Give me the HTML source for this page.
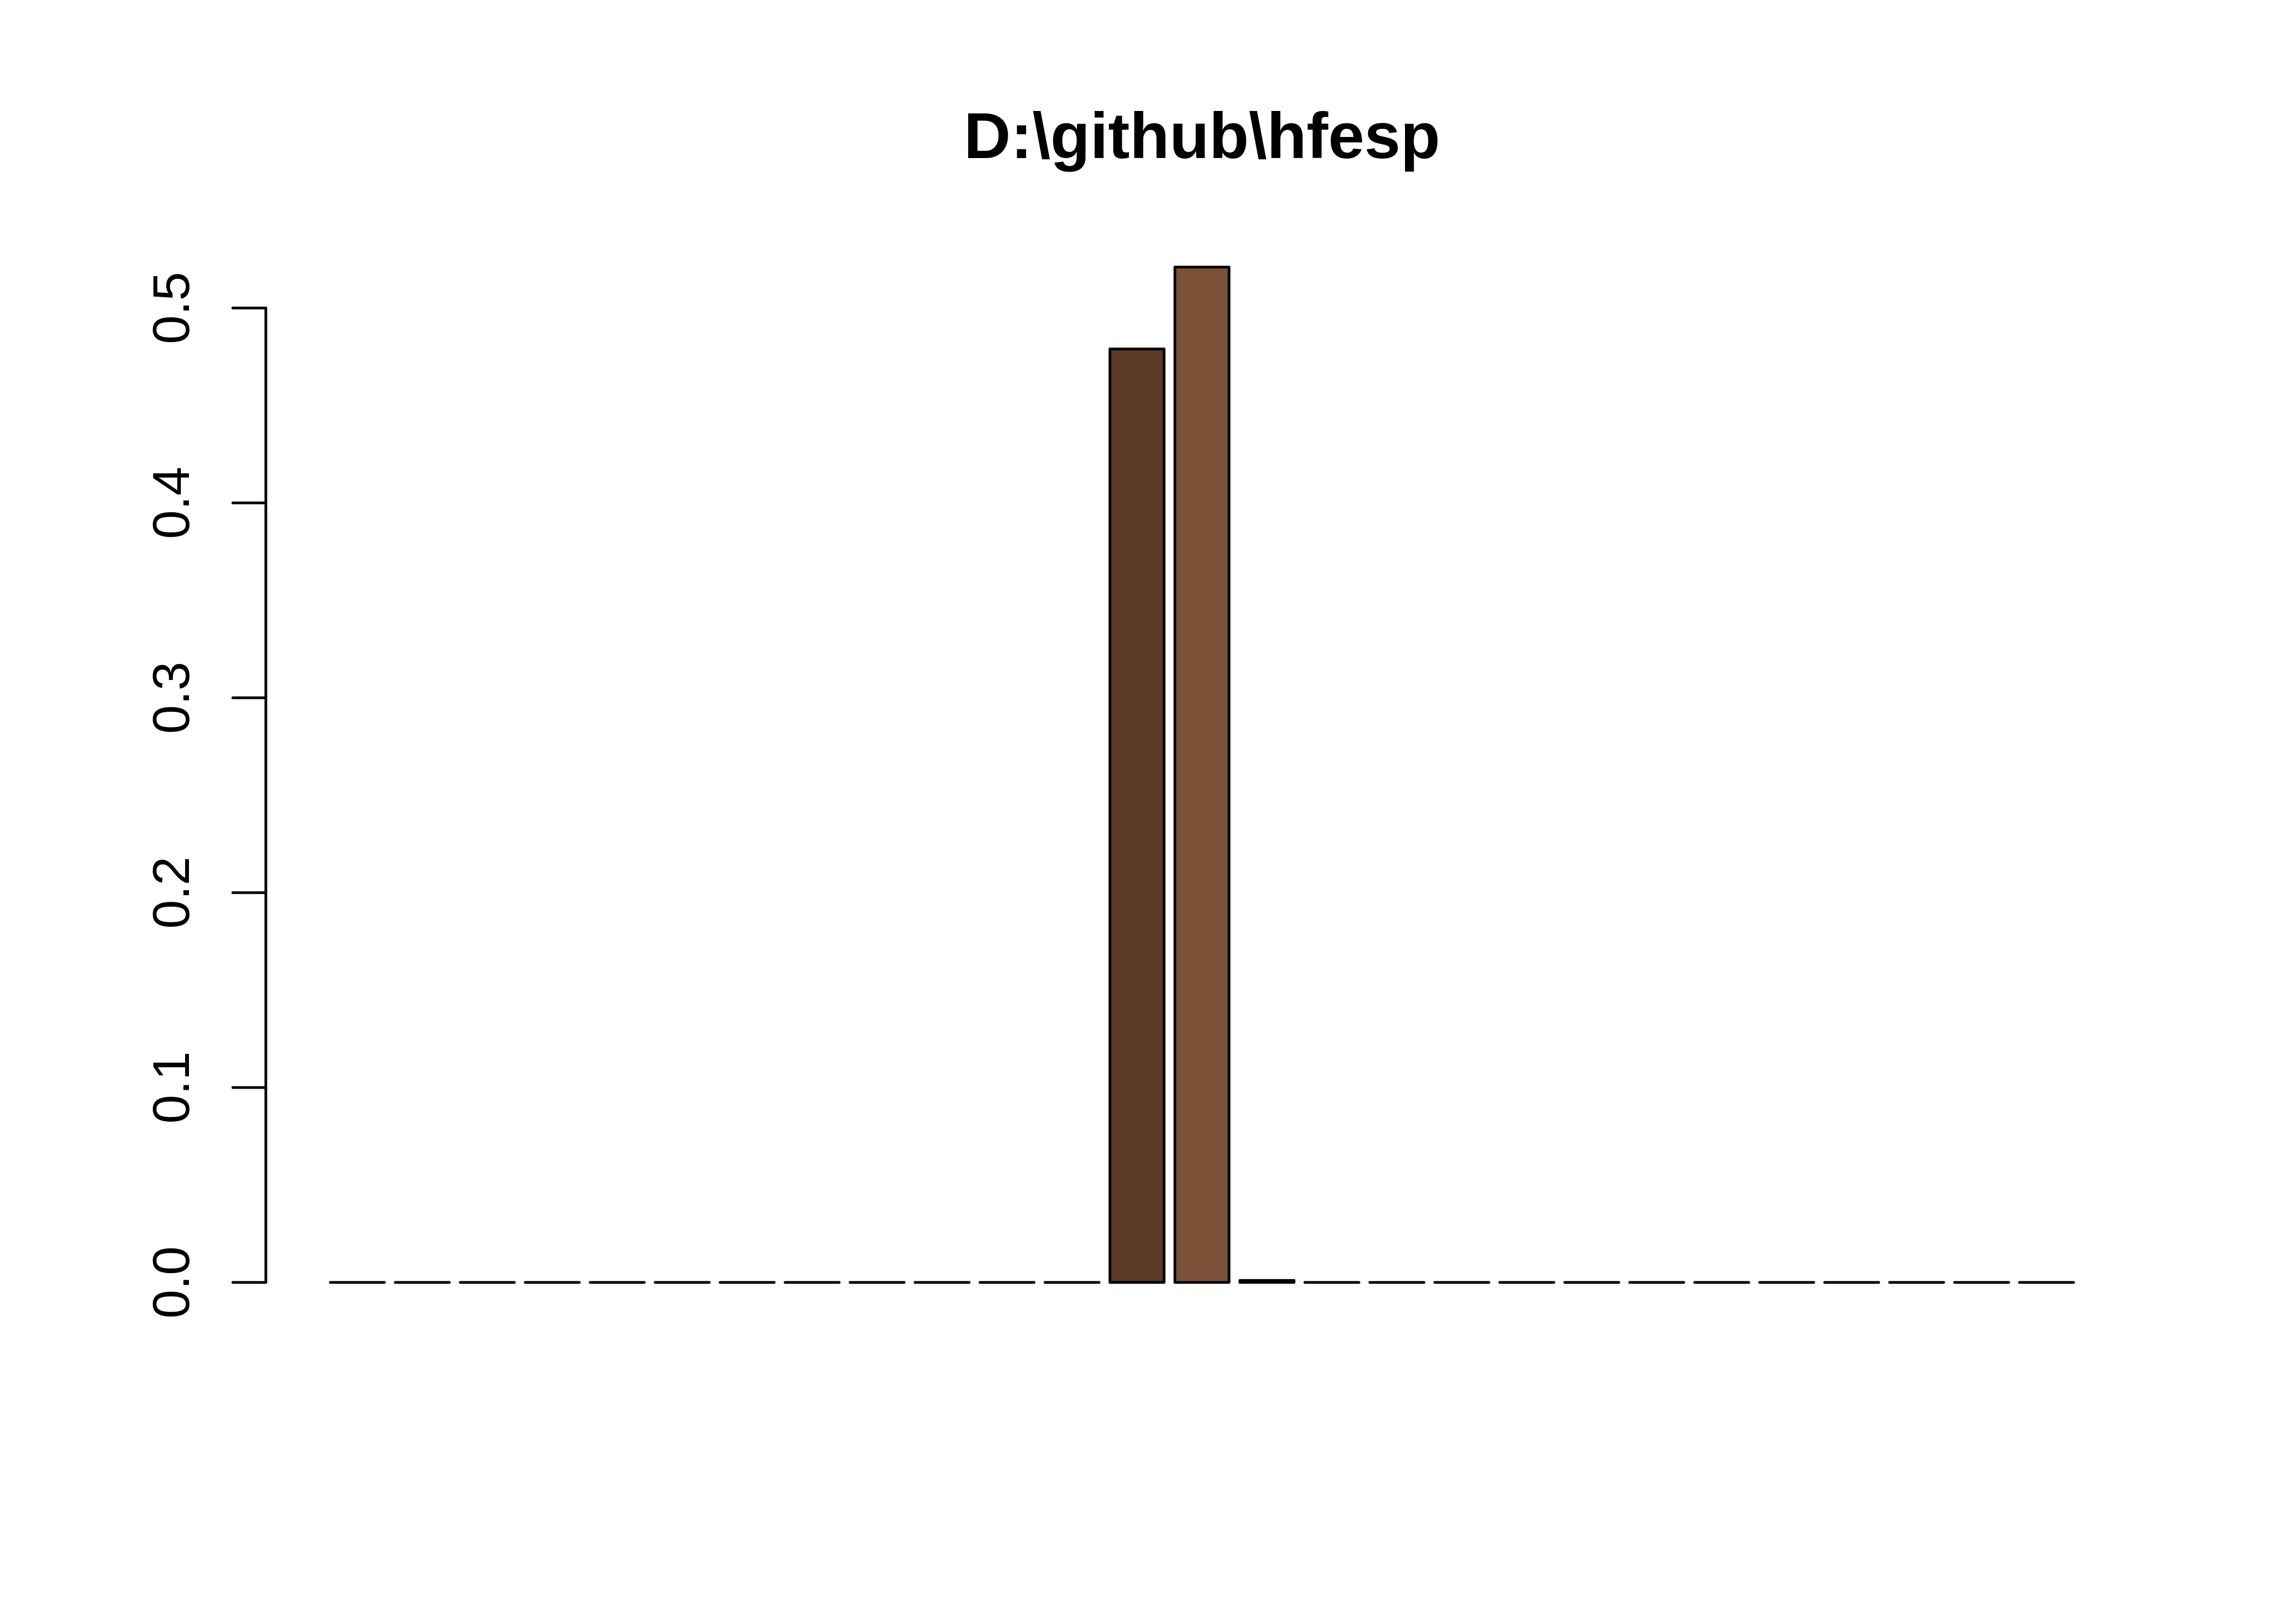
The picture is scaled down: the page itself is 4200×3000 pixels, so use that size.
<!DOCTYPE html>
<html><head><meta charset="utf-8"><style>html,body{margin:0;padding:0;background:#fff}svg{display:block}</style></head>
<body>
<svg width="4200" height="3000" viewBox="0 0 4200 3000" xmlns="http://www.w3.org/2000/svg">
<rect width="4200" height="3000" fill="#fff"/>
<text x="2220" y="292" text-anchor="middle" font-family="Liberation Sans, sans-serif" font-weight="bold" font-size="120">D:\github\hfesp</text>
<g id="axis"></g>
<g id="bars"></g>
</svg>
<script>
const values = [0,0,0,0,0,0,0,0,0,0,0,0,0.479,0.521,0.001,0,0,0,0,0,0,0,0,0,0,0,0];
const colors = ["#5C3B26","#5C3B26","#5C3B26","#5C3B26","#5C3B26","#5C3B26","#5C3B26","#5C3B26","#5C3B26","#5C3B26","#5C3B26","#5C3B26","#5A3A26","#7B5237","#7B5237","#7B5237","#7B5237","#7B5237","#7B5237","#7B5237","#7B5237","#7B5237","#7B5237","#7B5237","#7B5237","#7B5237","#7B5237"];
const ticks = [0,0.1,0.2,0.3,0.4,0.5];
const tickLabels = ["0.0","0.1","0.2","0.3","0.4","0.5"];
const NS="http://www.w3.org/2000/svg";
const y0=2369, pxPer=3600, xStart=610, step=120, bw=100, axisX=491;
function y(v){return y0 - v*pxPer;}
function x(i){return xStart + i*step;}
const ax=document.getElementById('axis');
const line=document.createElementNS(NS,'line');


line.setAttribute('x1',axisX);line.setAttribute('x2',axisX);
line.setAttribute('y1',y(ticks[0]));line.setAttribute('y2',y(ticks[ticks.length-1]));
line.setAttribute('stroke','#000');line.setAttribute('stroke-width','5');line.setAttribute('stroke-linecap','round');
ax.appendChild(line);
ticks.forEach((t,i)=>{
  const tk=document.createElementNS(NS,'line');
  
  
  tk.setAttribute('x1',axisX-61);tk.setAttribute('x2',axisX);
  tk.setAttribute('y1',y(t));tk.setAttribute('y2',y(t));
  tk.setAttribute('stroke','#000');tk.setAttribute('stroke-width','5');tk.setAttribute('stroke-linecap','round');
  ax.appendChild(tk);
  const tx=document.createElementNS(NS,'text');
  
  
  tx.setAttribute('x',349);tx.setAttribute('y',y(t));
  tx.setAttribute('text-anchor','middle');
  tx.setAttribute('font-family','Liberation Sans, sans-serif');
  tx.setAttribute('font-size','96');
  tx.setAttribute('transform','rotate(-90 349 '+y(t)+')');
  tx.textContent=tickLabels[i];
  ax.appendChild(tx);
});
const bg=document.getElementById('bars');
values.forEach((v,i)=>{
  const p=document.createElementNS(NS,'path');
  
  
  const top=y(v), l=x(i), r=x(i)+bw;
  p.setAttribute('d','M'+l+' '+y0+' L'+r+' '+y0+' L'+r+' '+top+' L'+l+' '+top+' Z');
  p.setAttribute('fill',colors[i]);p.setAttribute('stroke','#000');p.setAttribute('stroke-width','5');
  p.setAttribute('stroke-linejoin','round');p.setAttribute('stroke-linecap','round');
  bg.appendChild(p);
});
</script>
</body></html>
